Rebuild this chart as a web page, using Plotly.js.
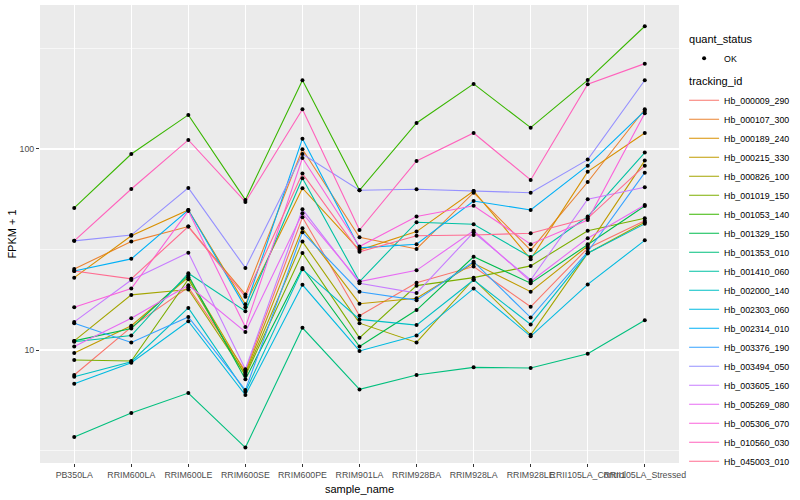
<!DOCTYPE html>
<html>
<head>
<meta charset="utf-8">
<script src="https://cdn.plot.ly/plotly-3.0.1.min.js"></script>
<style>
html, body { margin: 0; padding: 0; background: #ffffff; }
#chart { width: 800px; height: 500px; }
</style>
</head>
<body>
<div id="chart"></div>
<script>
// x categories
const sampleNames = ["PB350LA", "RRIM600LA", "RRIM600LE", "RRIM600SE", "RRIM600PE", "RRIM901LA",
  "RRIM928BA", "RRIM928LA", "RRIM928LE", "RRII105LA_Control", "RRII105LA_Stressed"];

// series names
const trackingIds = ["Hb_000009_290", "Hb_000107_300", "Hb_000189_240", "Hb_000215_330", "Hb_000826_100",
  "Hb_001019_150", "Hb_001053_140", "Hb_001329_150", "Hb_001353_010", "Hb_001410_060",
  "Hb_002000_140", "Hb_002303_060", "Hb_002314_010", "Hb_003376_190", "Hb_003494_050",
  "Hb_003605_160", "Hb_005269_080", "Hb_005306_070", "Hb_010560_030", "Hb_045003_010"];

// FPKM + 1 values, one array per tracking_id (order = sampleNames)
const v_Hb_000009_290 = [7.51, 13.0, 20.5, 7.89, 45.7, 14.8, 21.6, 26.0, 16.4, 32.1, 44.0];
const v_Hb_000107_300 = [25.3, 34.6, 41.1, 18.9, 99.7, 36.4, 31.8, 60.6, 31.4, 68.5, 157.6];
const v_Hb_000189_240 = [22.9, 37.0, 49.7, 16.9, 63.8, 31.4, 38.8, 61.8, 28.3, 77.1, 120.1];
const v_Hb_000215_330 = [9.66, 13.2, 23.0, 7.71, 40.3, 17.0, 18.1, 27.0, 19.5, 32.9, 87.5];
const v_Hb_000826_100 = [11.1, 18.8, 20.0, 7.57, 34.6, 13.6, 10.9, 22.5, 11.9, 30.3, 43.2];
const v_Hb_001019_150 = [8.92, 8.82, 22.5, 7.45, 30.4, 11.5, 20.9, 22.9, 26.2, 39.2, 45.2];
const v_Hb_001053_140 = [50.9, 94.4, 147.7, 55.8, 219.7, 62.3, 134.7, 210.6, 127.6, 220.0, 407.6];
const v_Hb_001329_150 = [11.1, 12.8, 23.5, 7.15, 25.6, 10.4, 15.8, 29.1, 21.5, 33.6, 52.0];
const v_Hb_001353_010 = [3.69, 4.86, 6.11, 3.27, 12.9, 6.37, 7.51, 8.20, 8.14, 9.58, 14.05];
const v_Hb_001410_060 = [11.0, 11.8, 24.1, 15.6, 71.5, 21.9, 43.2, 42.2, 29.0, 46.1, 95.9];
const v_Hb_002000_140 = [7.36, 8.75, 16.2, 6.20, 25.2, 14.2, 13.3, 22.3, 13.4, 30.3, 42.4];
const v_Hb_002303_060 = [6.80, 8.65, 13.9, 5.97, 21.1, 9.89, 11.8, 20.2, 11.7, 21.2, 35.1];
const v_Hb_002314_010 = [24.7, 28.4, 49.7, 16.3, 112.5, 32.2, 33.6, 55.1, 49.7, 82.6, 154.5];
const v_Hb_003376_190 = [13.6, 10.9, 14.6, 6.32, 38.5, 19.5, 17.7, 27.5, 14.5, 30.8, 76.2];
const v_Hb_003494_050 = [34.9, 37.3, 64.0, 25.6, 94.4, 62.3, 63.0, 61.8, 60.6, 88.5, 219.7];
const v_Hb_003605_160 = [13.8, 22.3, 30.5, 8.02, 50.1, 21.5, 19.2, 38.5, 22.3, 56.2, 64.5];
const v_Hb_005269_080 = [10.4, 14.4, 21.0, 12.3, 47.9, 21.9, 24.9, 39.2, 21.9, 36.0, 52.6];
const v_Hb_005306_070 = [16.3, 20.2, 49.2, 13.0, 90.2, 32.7, 46.1, 52.2, 33.6, 44.3, 150.5];
const v_Hb_010560_030 = [34.9, 63.2, 110.9, 54.5, 157.6, 39.5, 87.2, 120.1, 70.1, 209.8, 265.7];
const v_Hb_045003_010 = [24.7, 22.6, 41.1, 18.4, 75.4, 30.8, 37.0, 37.3, 38.1, 45.2, 82.6];

const seriesValues = [v_Hb_000009_290, v_Hb_000107_300, v_Hb_000189_240, v_Hb_000215_330, v_Hb_000826_100,
  v_Hb_001019_150, v_Hb_001053_140, v_Hb_001329_150, v_Hb_001353_010, v_Hb_001410_060,
  v_Hb_002000_140, v_Hb_002303_060, v_Hb_002314_010, v_Hb_003376_190, v_Hb_003494_050,
  v_Hb_003605_160, v_Hb_005269_080, v_Hb_005306_070, v_Hb_010560_030, v_Hb_045003_010];

// ggplot2 default hue palette for 20 levels
const seriesColors = ["#F8766D", "#EA8331", "#D89000", "#C09B00", "#A3A500", "#7CAE00", "#39B600",
  "#00BB4E", "#00BF7D", "#00C1A3", "#00BFC4", "#00BAE0", "#00B0F6", "#35A2FF", "#9590FF",
  "#C77CFF", "#E76BF3", "#FA62DB", "#FF62BC", "#FF6C91"];

const yTickVals = [10, 100];
const yTickText = ["10", "100"];
const yMinorVals = [Math.sqrt(10), Math.sqrt(1000), Math.sqrt(100000)];

const FONT = "Liberation Sans, Arial, Helvetica, sans-serif";

const traces = [];
trackingIds.forEach(function (id, i) {
  traces.push({
    type: "scatter",
    mode: "lines",
    x: sampleNames,
    y: seriesValues[i],
    name: id,
    legendgroup: "tracking_id",
    legendgrouptitle: { text: "tracking_id", font: { size: 11, color: "#000000", family: FONT } },
    legendrank: 100 + i,
    line: { color: seriesColors[i], width: 1.1 },
    hoverinfo: "skip"
  });
});

// all points (quant_status = OK), drawn on top
const px = [], py = [];
seriesValues.forEach(function (vals) {
  vals.forEach(function (v, j) { px.push(sampleNames[j]); py.push(v); });
});
traces.push({
  type: "scatter",
  mode: "markers",
  x: px,
  y: py,
  name: "OK",
  legendgroup: "quant_status",
  legendgrouptitle: { text: "quant_status", font: { size: 11, color: "#000000", family: FONT } },
  legendrank: 1,
  marker: { color: "#000000", size: 4, symbol: "circle" },
  hoverinfo: "skip"
});

const layout = {
  width: 800,
  height: 500,
  margin: { l: 40, r: 116, t: 5, b: 37, pad: 0 },
  paper_bgcolor: "#FFFFFF",
  plot_bgcolor: "#EBEBEB",
  font: { family: FONT, size: 8.8, color: "#4D4D4D" },
  showlegend: true,
  xaxis: {
    type: "category",
    categoryorder: "array",
    categoryarray: sampleNames,
    range: [-0.6, sampleNames.length - 0.4],
    tickangle: 0,
    showgrid: true,
    gridcolor: "#FFFFFF",
    gridwidth: 1.3,
    zeroline: false,
    showline: false,
    ticks: "outside",
    ticklen: 3,
    tickwidth: 1,
    tickcolor: "#333333",
    tickfont: { family: FONT, size: 8.8, color: "#4D4D4D" },
    title: { text: "sample_name", font: { family: FONT, size: 11, color: "#000000" }, standoff: 6 },
    fixedrange: true
  },
  yaxis: {
    type: "log",
    range: [0.438, 2.716],
    tickmode: "array",
    tickvals: yTickVals,
    ticktext: yTickText,
    showgrid: true,
    gridcolor: "#FFFFFF",
    gridwidth: 1.3,
    minor: { tickmode: "array", tickvals: yMinorVals, showgrid: true, gridcolor: "#FFFFFF", gridwidth: 0.6, ticks: "" },
    zeroline: false,
    showline: false,
    ticks: "outside",
    ticklen: 3,
    tickwidth: 1,
    tickcolor: "#333333",
    tickfont: { family: FONT, size: 8.8, color: "#4D4D4D" },
    title: { text: "FPKM + 1", font: { family: FONT, size: 11, color: "#000000" }, standoff: 0 },
    fixedrange: true
  },
  legend: {
    x: 1.008,
    xanchor: "left",
    y: 0.957,
    yanchor: "top",
    traceorder: "grouped",
    tracegroupgap: 4,
    bgcolor: "rgba(0,0,0,0)",
    borderwidth: 0,
    font: { family: FONT, size: 8.8, color: "#000000" },
    itemwidth: 30
  }
};

Plotly.newPlot("chart", traces, layout, { staticPlot: true, displayModeBar: false });
</script>
</body>
</html>
